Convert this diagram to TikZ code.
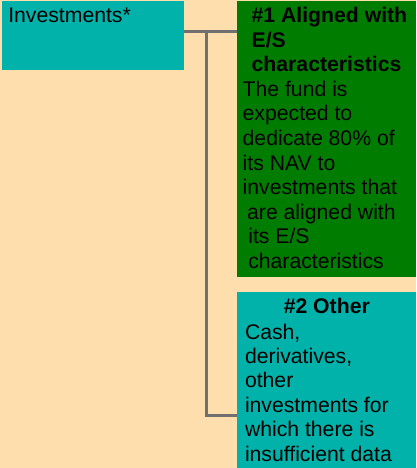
\documentclass[tikz,border=0pt]{standalone}
\usepackage{fontspec}
\setmainfont{Liberation Sans}
\definecolor{bgpeach}{HTML}{FFDEAD}
\definecolor{tealbox}{HTML}{00B2A9}
\definecolor{greenbox}{HTML}{007D00}
\definecolor{connline}{HTML}{707070}
\begin{document}
\begin{tikzpicture}[x=1pt,y=-1pt,
  boxshape/.style={rectangle, draw=none, inner sep=0pt, outer sep=0pt, anchor=north west},
  txt/.style={anchor=base west, inner sep=0pt, outer sep=0pt, font=\fontsize{21.2}{24.5}\selectfont},
  txtb/.style={txt, font=\fontsize{21.2}{24.5}\selectfont\bfseries},
  connector/.style={draw=connline, line width=3pt}]
\useasboundingbox (0,0) rectangle (416,468);
\fill[bgpeach] (0,0) rectangle (416,468);
% boxes
\node[boxshape, fill=tealbox, minimum width=182pt, minimum height=69pt] (inv) at (2,1) {};
\node[boxshape, fill=greenbox, minimum width=179pt, minimum height=276pt] (g1) at (237,1) {};
\node[boxshape, fill=tealbox, minimum width=179pt, minimum height=176pt] (g2) at (237,292) {};
% connectors
\coordinate (jtop) at (206.5,31.5);
\coordinate (jbot) at (206.5,415);
\draw[connector] (inv.east |- jtop) -- (g1.west |- jtop);
\draw[connector] (jtop) -- (jbot) -- (g2.west |- jbot);
% texts
\node[txt] (tinv) at (8.3,22.7) {Investments*};
\node[txtb] (h1a) at (251.7,22.7) {\#1 Aligned with};
\node[txtb] (h1b) at (251.7,47.3) {E/S};
\node[txtb] (h1c) at (251.7,72) {characteristics};
\node[txt] (b1a) at (242.7,96.5) {The fund is};
\node[txt] (b1b) at (242.7,121) {expected to};
\node[txt] (b1c) at (242.7,145.5) {dedicate 80\% of};
\node[txt] (b1d) at (242.7,170) {its NAV to};
\node[txt] (b1e) at (242.7,194.5) {investments that};
\node[txt] (b1f) at (247.2,219) {are aligned with};
\node[txt] (b1g) at (248.3,243.5) {its E/S};
\node[txt] (b1h) at (248.3,268) {characteristics};
\node[txtb, anchor=base] (h2) at (326.8,313.3) {\#2 Other};
\node[txt] (b2a) at (245,339.3) {Cash,};
\node[txt] (b2b) at (245,363.5) {derivatives,};
\node[txt] (b2c) at (245,387.8) {other};
\node[txt] (b2d) at (245,412.2) {investments for};
\node[txt] (b2e) at (245,436.6) {which there is};
\node[txt] (b2f) at (245,461) {insufficient data};
\end{tikzpicture}
\end{document}
